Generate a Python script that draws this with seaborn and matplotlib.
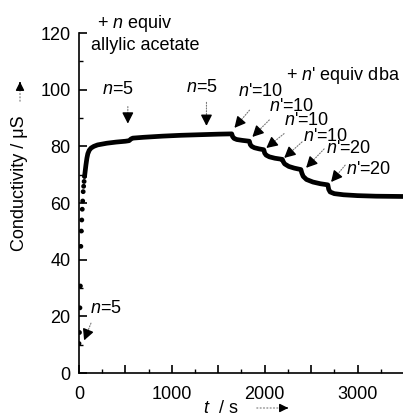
import matplotlib
matplotlib.use("Agg")
import matplotlib.pyplot as plt
import seaborn as sns
import pandas as pd
from matplotlib.ticker import MultipleLocator

# ---- data ----
# early, well separated readings (s, uS)
t_early = [0, 5, 10, 15, 20, 25, 30, 35, 40, 45, 50, 55, 60]
c_early = [10.4, 14.3, 23.0, 30.7, 44.7, 50.1, 54.0, 57.8, 60.7, 64.0, 65.9, 67.6, 69.4]

# later, dense readings (drawn as a thick trace)
t_main = [60, 65, 75, 85, 95, 110, 130, 160, 200, 300, 400, 500, 540, 560, 580, 700, 900,
          1100, 1300, 1500, 1645,
          1655, 1670, 1700, 1760, 1835,
          1845, 1860, 1890, 1940, 1990,
          2000, 2015, 2050, 2110, 2190,
          2200, 2215, 2260, 2320, 2390,
          2400, 2415, 2450, 2520, 2600, 2680,
          2690, 2705, 2750, 2850, 3000, 3200, 3500]
c_main = [69.4, 70.8, 73.5, 75.8, 77.4, 78.6, 79.4, 80.0, 80.5, 81.1, 81.5, 81.8, 82.0, 82.6, 82.9, 83.2, 83.6,
          83.9, 84.1, 84.3, 84.4,
          83.4, 82.8, 82.4, 82.1, 81.8,
          80.6, 80.0, 79.5, 79.1, 78.8,
          77.6, 76.9, 76.3, 75.8, 75.4,
          74.6, 73.8, 72.9, 72.3, 71.8,
          70.6, 69.4, 68.3, 67.4, 66.8, 66.4,
          64.8, 63.9, 63.3, 62.9, 62.6, 62.4, 62.3]

x_ticks = [0, 1000, 2000, 3000]
y_ticks = [0, 20, 40, 60, 80, 100, 120]

# annotations: (label, text position, arrow tail, arrow tip) in data units
allyl_notes = [
    ("$n$=5", (290, 22.6), (140, 18.5), (55, 11.5)),
    ("$n$=5", (418, 100.2), (526, 95.0), (526, 88.0)),
    ("$n$=5", (1320, 100.6), (1373, 96.5), (1373, 87.2)),
]
dba_notes = [
    ("$n$'=10", (1953, 99.5), (1856, 93.5), (1674, 86.5)),
    ("$n$'=10", (2296, 94.0), (2071, 90.0), (1867, 83.3)),
    ("$n$'=10", (2457, 89.0), (2232, 85.1), (2017, 79.4)),
    ("$n$'=10", (2661, 83.6), (2425, 82.2), (2210, 75.9)),
    ("$n$'=20", (2908, 79.4), (2661, 79.8), (2446, 72.4)),
    ("$n$'=20", (3122, 71.7), (2886, 74.1), (2715, 67.4)),
]

sns.set_theme(style="ticks")
plt.rcParams["font.family"] = ["Liberation Sans", "DejaVu Sans"]
plt.rcParams["mathtext.fontset"] = "custom"
plt.rcParams["mathtext.it"] = "Liberation Sans:italic"
plt.rcParams["mathtext.rm"] = "Liberation Sans"

W, H = 403, 415
fig = plt.figure(figsize=(W / 100, H / 100), dpi=100)
ax = fig.add_axes([79 / W, (H - 373) / H, (403 - 79) / W, (373 - 33) / H])

df_main = pd.DataFrame({"t": t_main, "c": c_main})
df_early = pd.DataFrame({"t": t_early, "c": c_early})
sns.lineplot(data=df_main, x="t", y="c", ax=ax, color="black", lw=3.4,
             estimator=None, sort=False, solid_capstyle="round")
sns.scatterplot(data=df_early, x="t", y="c", ax=ax, color="black", s=12,
                edgecolor="none", zorder=3)

ax.set_xlim(0, 3490)
ax.set_ylim(0, 120)
ax.set_xlabel("")
ax.set_ylabel("")
sns.despine(ax=ax)
for s in ["left", "bottom"]:
    ax.spines[s].set_linewidth(1.2)
    ax.spines[s].set_color("black")

ax.xaxis.set_major_locator(MultipleLocator(500))
ax.xaxis.set_major_formatter(matplotlib.ticker.FuncFormatter(
    lambda v, p: f"{int(v)}" if int(v) in x_ticks else ""))
ax.xaxis.set_minor_locator(MultipleLocator(250))
ax.set_yticks(y_ticks)
ax.yaxis.set_minor_locator(MultipleLocator(10))
ax.tick_params(axis="both", which="major", direction="in", length=6, width=1.2,
               labelsize=13, color="black", labelcolor="black")
ax.tick_params(axis="both", which="minor", direction="in", length=3, width=1.0, color="black")
ax.tick_params(axis="x", pad=9)
ax.tick_params(axis="y", pad=6)


def note(label, xytext, tail, tip):
    ax.text(*xytext, label, fontsize=13, ha="center", va="center", color="black")
    ax.annotate("", xy=tip, xytext=tail,
                arrowprops=dict(arrowstyle="-", color="#777777", lw=0.8, linestyle=(0, (1, 1.5))))
    dx = tip[0] - tail[0]
    dy = tip[1] - tail[1]
    ax.annotate("", xy=tip, xytext=(tip[0] - dx * 0.2, tip[1] - dy * 0.2),
                arrowprops=dict(arrowstyle="-|>,head_length=0.55,head_width=0.28",
                                color="black", lw=1.0, shrinkA=0, shrinkB=0))


for lab, xt, tl, tp in allyl_notes + dba_notes:
    note(lab, xt, tl, tp)


def ftext(x, y, s, **kw):
    fig.text(x / W, 1 - y / H, s, fontsize=13, color="black", **kw)


ftext(97, 23, "+ $n$ equiv", ha="left", va="center")
ftext(91, 45, "allylic acetate", ha="left", va="center")
ftext(286, 76, "+ $n$' equiv dba", ha="left", va="center")

# axis labels with dotted arrows
ftext(20, 183, "Conductivity / μS", rotation=90, ha="center", va="center")
fig.add_artist(matplotlib.patches.FancyArrowPatch(
    (20 / W, 1 - 104 / H), (20 / W, 1 - 80 / H), transform=fig.transFigure,
    arrowstyle="-", color="#777777", lw=0.8, linestyle=(0, (1, 2))))
fig.add_artist(matplotlib.patches.FancyArrowPatch(
    (20 / W, 1 - 86 / H), (20 / W, 1 - 79 / H), transform=fig.transFigure,
    arrowstyle="-|>,head_length=0.5,head_width=0.25", color="black", lw=1.0, mutation_scale=10))

ftext(221, 408, "$t$  / s", ha="center", va="center")
fig.add_artist(matplotlib.patches.FancyArrowPatch(
    (254 / W, 1 - 408 / H), (290 / W, 1 - 408 / H), transform=fig.transFigure,
    arrowstyle="-", color="#777777", lw=0.8, linestyle=(0, (1, 2))))
fig.add_artist(matplotlib.patches.FancyArrowPatch(
    (283 / W, 1 - 408 / H), (291 / W, 1 - 408 / H), transform=fig.transFigure,
    arrowstyle="-|>,head_length=0.5,head_width=0.25", color="black", lw=1.0, mutation_scale=10))

fig.savefig("out.png", dpi=100, facecolor="white")
